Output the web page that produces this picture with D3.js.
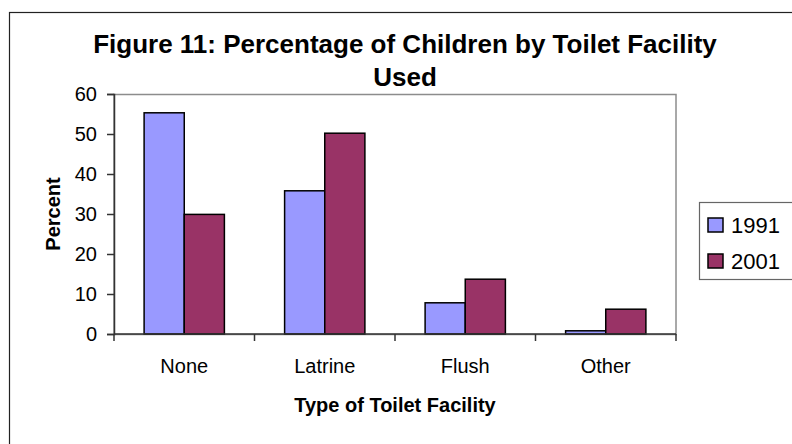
<!DOCTYPE html>
<html>
<head>
<meta charset="utf-8">
<script src="https://cdn.jsdelivr.net/npm/d3@7"></script>
<style>
  html, body { margin: 0; padding: 0; background: #fff; }
  svg { display: block; font-family: Arial, "Liberation Sans", sans-serif; }
</style>
</head>
<body>
<svg id="chart" width="792" height="444"></svg>
<script>
// Toilet facility used by children, percent, 1991 vs 2001
const categories = ["None", "Latrine", "Flush", "Other"];
const seriesNames = ["1991", "2001"];
const values1991 = [55.3, 35.8, 7.8, 0.8];
const values2001 = [29.9, 50.2, 13.7, 6.2];
const yTicks = [0, 10, 20, 30, 40, 50, 60];

const colors = { "1991": "#9999FF", "2001": "#993366" };
const seriesValues = { "1991": values1991, "2001": values2001 };

const svg = d3.select("#chart");

// outer chart frame
svg.append("rect")
  .attr("x", 9.5).attr("y", 12.5)
  .attr("width", 800).attr("height", 450)
  .attr("fill", "#fff").attr("stroke", "#222").attr("stroke-width", 1.2);

const plot = { left: 114, right: 676, top: 94, bottom: 334 };

// category slots along the x axis; each slot = gap (1.5 bar widths) + 2 bars
const xEdge = d3.scaleLinear().domain([0, categories.length]).range([plot.left, plot.right]);
const slot = xEdge(1) - xEdge(0);
const x1 = d3.scaleBand().domain(seriesNames).range([0, slot * 2 / 3.5]);

const y = d3.scaleLinear().domain([0, 60]).range([plot.bottom, plot.top]);

// plot area border (gray)
svg.append("rect")
  .attr("x", plot.left).attr("y", plot.top + 0.5)
  .attr("width", plot.right - plot.left).attr("height", plot.bottom - plot.top)
  .attr("fill", "#fff").attr("stroke", "#8c8c8c").attr("stroke-width", 1.5);

// bars
const groups = svg.append("g").selectAll("g")
  .data(categories)
  .join("g")
  .attr("transform", (d, i) => `translate(${xEdge(i) + slot * 0.75 / 3.5},0)`);

groups.selectAll("rect")
  .data((d, i) => seriesNames.map(s => ({ s, v: seriesValues[s][i] })))
  .join("rect")
  .attr("x", d => x1(d.s))
  .attr("width", x1.bandwidth())
  .attr("y", d => y(d.v))
  .attr("height", d => y(0) - y(d.v))
  .attr("fill", d => colors[d.s])
  .attr("stroke", "#000")
  .attr("stroke-width", 1.5);

// y axis
const yAxis = d3.axisLeft(y).tickValues(yTicks).tickSize(7).tickPadding(10);
const gy = svg.append("g")
  .attr("transform", `translate(${plot.left},0)`)
  .call(yAxis);
gy.select(".domain").attr("stroke", "#333").attr("stroke-width", 1.5);
gy.selectAll(".tick line").attr("stroke", "#333").attr("stroke-width", 1.5);
gy.selectAll(".tick text")
  .attr("font-size", 20).attr("fill", "#000")
  .attr("font-family", "Arial, 'Liberation Sans', sans-serif");

// x axis with ticks between categories
const gx = svg.append("g");
gx.append("line")
  .attr("x1", plot.left).attr("x2", plot.right)
  .attr("y1", plot.bottom).attr("y2", plot.bottom)
  .attr("stroke", "#333").attr("stroke-width", 1.5);
gx.selectAll("line.tick")
  .data(d3.range(categories.length + 1))
  .join("line")
  .attr("class", "tick")
  .attr("x1", d => xEdge(d)).attr("x2", d => xEdge(d))
  .attr("y1", plot.bottom).attr("y2", plot.bottom + 7)
  .attr("stroke", "#333").attr("stroke-width", 1.5);
gx.selectAll("text")
  .data(categories)
  .join("text")
  .attr("x", (d, i) => xEdge(i + 0.5))
  .attr("y", 373)
  .attr("text-anchor", "middle")
  .attr("font-size", 20)
  .text(d => d);

// titles
const title = svg.append("text")
  .attr("text-anchor", "middle")
  .attr("font-weight", "bold")
  .attr("font-size", 26);
title.append("tspan").attr("x", 405).attr("y", 53)
  .text("Figure 11: Percentage of Children by Toilet Facility");
title.append("tspan").attr("x", 405).attr("y", 86).text("Used");

svg.append("text")
  .attr("x", (plot.left + plot.right) / 2)
  .attr("y", 412)
  .attr("text-anchor", "middle")
  .attr("font-weight", "bold")
  .attr("font-size", 20)
  .text("Type of Toilet Facility");

svg.append("text")
  .attr("transform", `translate(60,${(plot.top + plot.bottom) / 2}) rotate(-90)`)
  .attr("text-anchor", "middle")
  .attr("font-weight", "bold")
  .attr("font-size", 20)
  .text("Percent");

// legend
const legend = svg.append("g");
legend.append("rect")
  .attr("x", 699.5).attr("y", 202.5)
  .attr("width", 120).attr("height", 77)
  .attr("fill", "#fff").attr("stroke", "#666").attr("stroke-width", 1.2);
const items = legend.selectAll("g.item")
  .data(seriesNames)
  .join("g")
  .attr("class", "item")
  .attr("transform", (d, i) => `translate(708,${218 + i * 36})`);
items.append("rect")
  .attr("width", 15).attr("height", 14)
  .attr("fill", d => colors[d])
  .attr("stroke", "#000").attr("stroke-width", 1.5);
items.append("text")
  .attr("x", 23).attr("y", 15)
  .attr("font-size", 22)
  .text(d => d);
</script>
</body>
</html>
